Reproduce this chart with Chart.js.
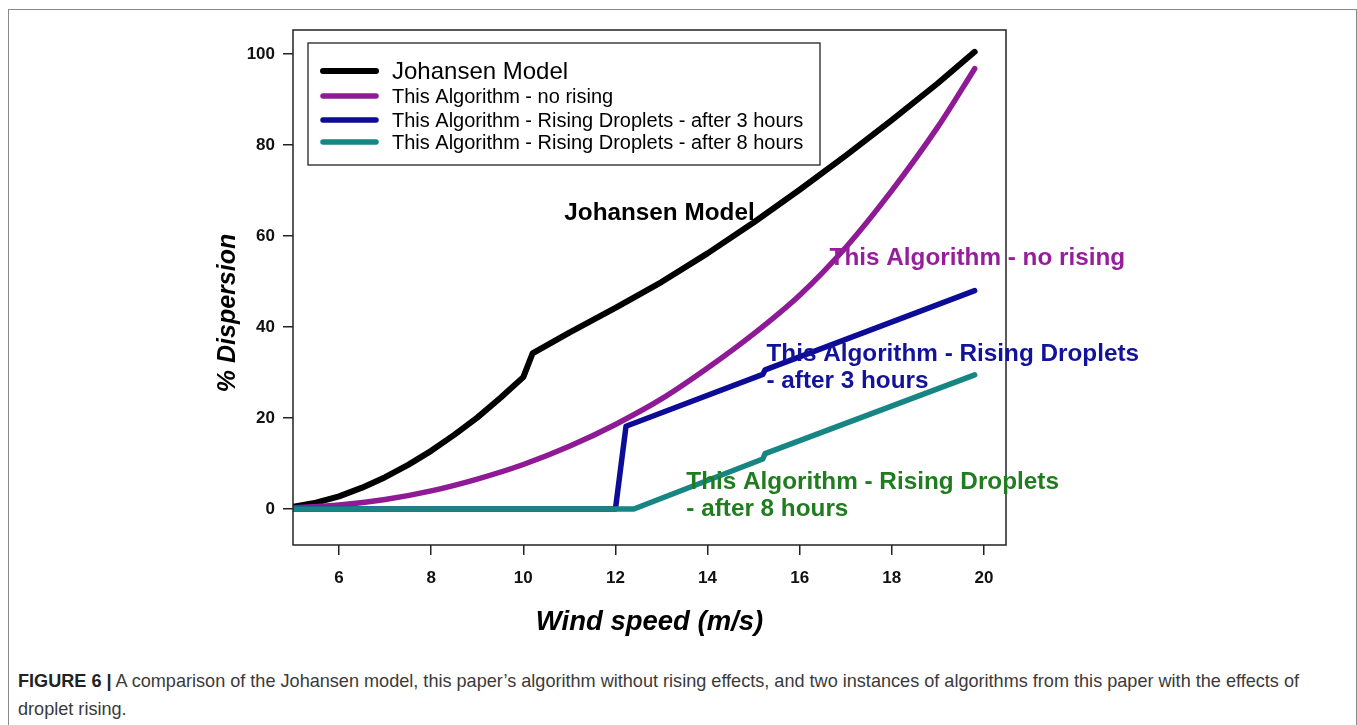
<!DOCTYPE html>
<html>
<head>
<meta charset="utf-8">
<script src="https://cdn.jsdelivr.net/npm/chart.js@4.4.1/dist/chart.umd.min.js"></script>
<style>
    html, body { margin: 0; padding: 0; background: #fff; }
    body { width: 1357px; height: 725px; position: relative; overflow: hidden; }
    #frame { position: absolute; left: 8px; top: 9px; width: 1347px; height: 760px;
             border: 1px solid #8a8a8a; border-bottom: none; }
    #chart { position: absolute; left: 0; top: 0; }
    #caption { position: absolute; left: 18px; top: 667px; width: 1334px;
               font-family: "Liberation Sans", Arial, sans-serif;
               font-size: 18.1px; line-height: 28px; color: #3a3a3a; }
    #caption b { color: #222; }
</style>
</head>
<body>
<div id="frame"></div>
<canvas id="chart" width="1357" height="640"></canvas>
<div id="caption"><b>FIGURE 6 |</b> A comparison of the Johansen model, this paper’s algorithm without rising effects, and two instances of algorithms from this paper with the effects of<br>droplet rising.</div>
<script>
// wind speed (m/s) and % dispersion
const johansenX = [5, 5.5, 6, 6.5, 7, 7.5, 8, 8.5, 9, 9.5, 10, 10.2, 11, 12, 13, 14, 15, 16, 17, 18, 19, 19.8];
const johansenY = [0.5, 1.4, 2.8, 4.7, 7.0, 9.7, 12.8, 16.3, 20.1, 24.4, 29, 34.2, 38.8, 44.2, 49.9, 56.2, 63.0, 70.2, 77.7, 85.5, 93.6, 100.5];

const noRisingX = [5, 6, 7, 8, 9, 10, 11, 12, 13, 14, 15, 16, 17, 18, 19, 19.8];
const noRisingY = [0.3, 0.9, 2.1, 4.0, 6.6, 9.8, 13.8, 18.6, 24.2, 31, 38.5, 47, 57.5, 70, 84, 96.8];

const rising3hX = [5, 12.0, 12.23, 15.2, 15.25, 19.8];
const rising3hY = [0, 0, 18.2, 29.6, 30.6, 48.0];

const rising8hX = [5, 12.4, 15.2, 15.25, 19.8];
const rising8hY = [0, 0, 11.0, 12.2, 29.5];

const seriesLabels = [
    'Johansen Model',
    'This Algorithm - no rising',
    'This Algorithm - Rising Droplets - after 3 hours',
    'This Algorithm - Rising Droplets - after 8 hours',
];
const seriesColors = ['#000000', '#8e1a96', '#0c0c96', '#188585'];
const smoothSeries = [false, true, false, false];

const xTicks = [6, 8, 10, 12, 14, 16, 18, 20];
const yTicks = [0, 20, 40, 60, 80, 100];

// in-plot labels: [text lines, x value of left edge, y value of first line, colour]
const notes = [
    [['Johansen Model'], 10.89, 64.9, '#000000'],
    [['This Algorithm - no rising'], 16.65, 55.2, '#961e9c'],
    [['This Algorithm - Rising Droplets', '- after 3 hours'], 15.28, 34.1, '#12129a'],
    [['This Algorithm - Rising Droplets', '- after 8 hours'], 13.54, 5.9, '#1f7d1f'],
];

const pts = (xs, ys) => xs.map((x, i) => ({ x: x, y: ys[i] }));
const seriesData = [
    pts(johansenX, johansenY),
    pts(noRisingX, noRisingY),
    pts(rising3hX, rising3hY),
    pts(rising8hX, rising8hY),
];

const boxAndNotes = {
    id: 'boxAndNotes',
    afterDatasetsDraw(chart) {
        const ctx = chart.ctx;
        const a = chart.chartArea;
        const xs = chart.scales.x, ys = chart.scales.y;
        ctx.save();

        // plot frame
        ctx.strokeStyle = '#222';
        ctx.lineWidth = 1.5;
        ctx.strokeRect(a.left, a.top, a.right - a.left, a.bottom - a.top);

        // y title
        ctx.fillStyle = '#000';
        ctx.font = 'italic bold 25px "Liberation Sans", Arial, sans-serif';
        ctx.textAlign = 'center';
        ctx.textBaseline = 'middle';
        ctx.translate(228, 313);
        ctx.rotate(-Math.PI / 2);
        ctx.fillText('% Dispersion', 0, 0);
        ctx.setTransform(1, 0, 0, 1, 0, 0);

        // labels inside the plot
        ctx.font = 'bold 24.3px "Liberation Sans", Arial, sans-serif';
        ctx.textAlign = 'left';
        notes.forEach(([lines, xv, yv, col]) => {
            ctx.fillStyle = col;
            const px = xs.getPixelForValue(xv);
            const py = ys.getPixelForValue(yv);
            lines.forEach((t, i) => ctx.fillText(t, px, py + i * 27));
        });

        // legend
        const lx = a.left + 15, ly = a.top + 13, lw = 512, lh = 122;
        ctx.fillStyle = '#fff';
        ctx.fillRect(lx, ly, lw, lh);
        ctx.strokeStyle = '#222';
        ctx.lineWidth = 1.3;
        ctx.strokeRect(lx, ly, lw, lh);
        const rows = [28, 53, 77, 99];
        ctx.lineCap = 'round';
        chart.data.datasets.forEach((ds, i) => {
            const y = ly + rows[i];
            ctx.strokeStyle = ds.borderColor;
            ctx.lineWidth = i === 0 ? 6 : 5.5;
            ctx.beginPath();
            ctx.moveTo(lx + 15, y);
            ctx.lineTo(lx + 68, y);
            ctx.stroke();
            ctx.fillStyle = '#000';
            ctx.font = (i === 0 ? '24px' : '20px') + ' "Liberation Sans", Arial, sans-serif';
            ctx.fillText(ds.label, lx + 84, y + 1);
        });
        ctx.restore();
    },
};

new Chart(document.getElementById('chart'), {
    type: 'line',
    data: {
        datasets: seriesData.map((d, i) => ({
            label: seriesLabels[i],
            data: d,
            borderColor: seriesColors[i],
            borderWidth: i === 0 ? 6 : 5.5,
            borderCapStyle: 'round',
            borderJoinStyle: 'round',
            pointRadius: 0,
            cubicInterpolationMode: smoothSeries[i] ? 'monotone' : 'default',
            tension: 0,
            fill: false,
            order: 4 - i,
        })),
    },
    options: {
        responsive: false,
        animation: false,
        devicePixelRatio: 1,
        layout: { padding: { top: 30, right: 351, left: 0, bottom: 0 } },
        plugins: { legend: { display: false }, tooltip: { enabled: false } },
        scales: {
            x: {
                type: 'linear',
                min: 5,
                max: 20.48,
                afterFit: (s) => { s.height = 95; },
                afterBuildTicks: (s) => { s.ticks = xTicks.map((v) => ({ value: v })); },
                grid: { drawOnChartArea: false, drawTicks: true, tickLength: 10, color: '#222', lineWidth: 1.5 },
                border: { display: false },
                ticks: {
                    padding: 13,
                    color: '#111',
                    font: { family: '"Liberation Sans", Arial, sans-serif', size: 17, weight: 'bold' },
                },
                title: {
                    display: true,
                    text: 'Wind speed (m/s)',
                    color: '#000',
                    padding: { top: 0, bottom: 1 },
                    font: { family: '"Liberation Sans", Arial, sans-serif', size: 27.5, weight: 'bold', style: 'italic' },
                },
            },
            y: {
                type: 'linear',
                min: -7.9,
                max: 105.3,
                afterFit: (s) => { s.width = 293; },
                afterBuildTicks: (s) => { s.ticks = yTicks.map((v) => ({ value: v })); },
                grid: { drawOnChartArea: false, drawTicks: true, tickLength: 10, color: '#222', lineWidth: 1.5 },
                border: { display: false },
                ticks: {
                    padding: 8,
                    color: '#111',
                    font: { family: '"Liberation Sans", Arial, sans-serif', size: 17, weight: 'bold' },
                },
            },
        },
    },
    plugins: [boxAndNotes],
});
</script>
</body>
</html>
